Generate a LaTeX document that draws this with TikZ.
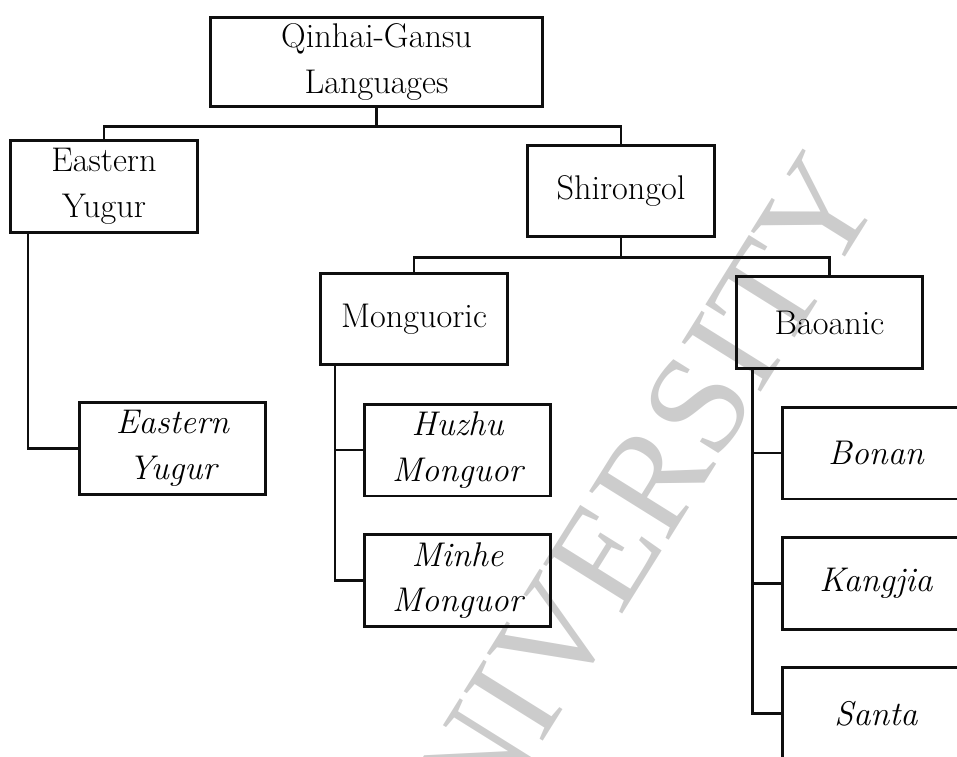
\documentclass[tikz,border=0pt]{standalone}
\usepackage{fontspec}
\usepackage{tikz}
\usetikzlibrary{calc,positioning}
\newfontfamily\stampfont{Liberation Serif}
\definecolor{treeInk}{RGB}{15,15,15}
\definecolor{stampGray}{RGB}{204,204,204}

\begin{document}
\begin{tikzpicture}[x=0.02cm, y=-0.02cm,
  langbox/.style={draw=treeInk, line width=1.7pt, minimum width=3.74cm, minimum height=1.84cm, inner sep=0pt, align=center, font=\fontsize{19.5}{26}\selectfont},
  leafbox/.style={langbox, font=\fontsize{19.5}{26}\selectfont\itshape},
  branch/.style={draw=treeInk, line width=1.35pt}]
\useasboundingbox (0,0) rectangle (957,757);
\clip (0,0) rectangle (957,757);
% watermark
\node[rotate=58, text=stampGray, font=\stampfont\fontsize{81}{81}\selectfont] (stamp) at (619,533) {UNIVERSITY};
% upper levels
\node[langbox, minimum width=6.66cm, minimum height=1.8cm] (qg) at (376.5,62) {Qinhai-Gansu\\Languages};
\node[langbox] (eyugur) at (104,186.5) {Eastern\\Yugur};
\node[langbox] (shir) at (621,191) {Shirongol};
\node[langbox] (mong) at (414,319) {Monguoric};
\node[langbox] (bao) at (829.5,322.5) {Baoanic};
% languages
\node[leafbox] (eyleaf) at (172.5,448.5) {Eastern\\Yugur};
\node[leafbox] (huzhu) at (457.5,450) {Huzhu\\Monguor};
\node[leafbox] (minhe) at (457.5,580.5) {Minhe\\Monguor};
\node[leafbox] (bonan) at (876,453) {Bonan};
\node[leafbox] (kangjia) at (876,583.5) {Kangjia};
\node[leafbox] (santa) at (876,713.5) {Santa};
% branches
\draw[branch] (qg.south) -- ++(0,18) coordinate (qgbar);
\draw[branch] (eyugur.north) |- (qgbar) -| (shir.north);
\draw[branch] (shir.south) -- ++(0,19) coordinate (shirbar);
\draw[branch] (mong.north) |- (shirbar) -| (bao.north);
\draw[branch] ([xshift=0.38cm]eyugur.south west) |- (eyleaf.west);
\foreach \leaf in {huzhu,minhe}
{
\draw[branch] ([xshift=0.32cm]mong.south west) |- (\leaf.west);
}
\foreach \leaf in {bonan,kangjia,santa}
{
\draw[branch] ([xshift=0.36cm]bao.south west) |- (\leaf.west);
}
\end{tikzpicture}
\end{document}
